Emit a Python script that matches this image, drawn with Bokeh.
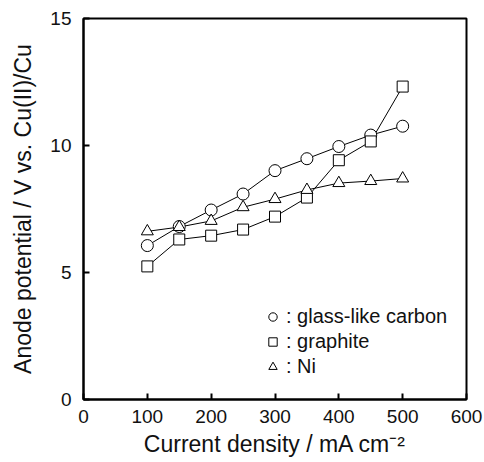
from bokeh.plotting import figure
from bokeh.models import Range1d, FixedTicker, Legend, LegendItem
from bokeh.embed import file_html
from bokeh.resources import INLINE

current = [100, 150, 200, 250, 300, 350, 400, 450, 500]
glass_carbon = [6.06, 6.81, 7.46, 8.09, 9.01, 9.48, 9.96, 10.41, 10.76]
graphite = [5.24, 6.30, 6.45, 6.69, 7.20, 7.95, 9.42, 10.16, 12.32]
nickel = [6.62, 6.79, 7.03, 7.57, 7.89, 8.25, 8.52, 8.60, 8.70]
x_ticks = [0, 100, 200, 300, 400, 500, 600]
y_ticks = [0, 5, 10, 15]
labels = [": glass-like carbon", ": graphite", ": Ni"]

FONT = "Liberation Sans"

p = figure(frame_width=383, frame_height=381, output_backend="svg", toolbar_location=None,
           x_range=Range1d(0, 600), y_range=Range1d(0, 15),
           min_border_left=83, min_border_right=18, min_border_top=18, min_border_bottom=40)
p.grid.visible = False
p.background_fill_color = "white"
p.border_fill_color = "white"
p.outline_line_color = "black"
p.outline_line_width = 2

for ax, ticks in ((p.xaxis[0], x_ticks), (p.yaxis[0], y_ticks)):
    ax.ticker = FixedTicker(ticks=ticks)
    ax.minor_tick_line_color = None
    ax.major_tick_in = 6
    ax.major_tick_out = 0
    ax.major_tick_line_width = 2
    ax.major_tick_line_color = "black"
    ax.axis_line_width = 2
    ax.axis_line_color = "black"
    ax.major_label_text_font = FONT
    ax.major_label_text_font_size = "19px"
    ax.major_label_text_color = "#111111"
    ax.axis_label_text_font = FONT
    ax.axis_label_text_font_size = "23px"
    ax.axis_label_text_font_style = "normal"
    ax.axis_label_text_color = "#111111"

p.xaxis.axis_label = "Current density / mA cm\u207b\u00b2"
p.yaxis.axis_label = "Anode potential / V vs. Cu(II)/Cu"
p.xaxis.major_label_standoff = 10
p.yaxis.major_label_standoff = 12
p.xaxis.axis_label_standoff = 5
p.yaxis.axis_label_standoff = 11

series = [(glass_carbon, "circle", 12), (graphite, "square", 11), (nickel, "triangle", 12)]
for ys, marker, size in series:
    p.line(current, ys, line_color="black", line_width=1)
for ys, marker, size in series:
    p.scatter(current, ys, marker=marker, size=size, fill_color="white",
              line_color="black", line_width=1)

nan = float("nan")
items = []
for (ys, marker, size), lab in zip(series, labels):
    r = p.scatter(x=[nan], y=[nan], marker=marker, size=8, fill_color="white",
                  line_color="black", line_width=1)
    items.append(LegendItem(label=lab, renderers=[r], index=0))

legend = Legend(items=items, location=(179, 21), padding=0, spacing=2,
                glyph_width=21, glyph_height=21, label_standoff=3,
                label_text_font=FONT, label_text_font_size="20px",
                label_text_color="#111111",
                border_line_color=None, background_fill_alpha=0)
p.add_layout(legend, "center")

open("out.html", "w").write(file_html(p, INLINE))
